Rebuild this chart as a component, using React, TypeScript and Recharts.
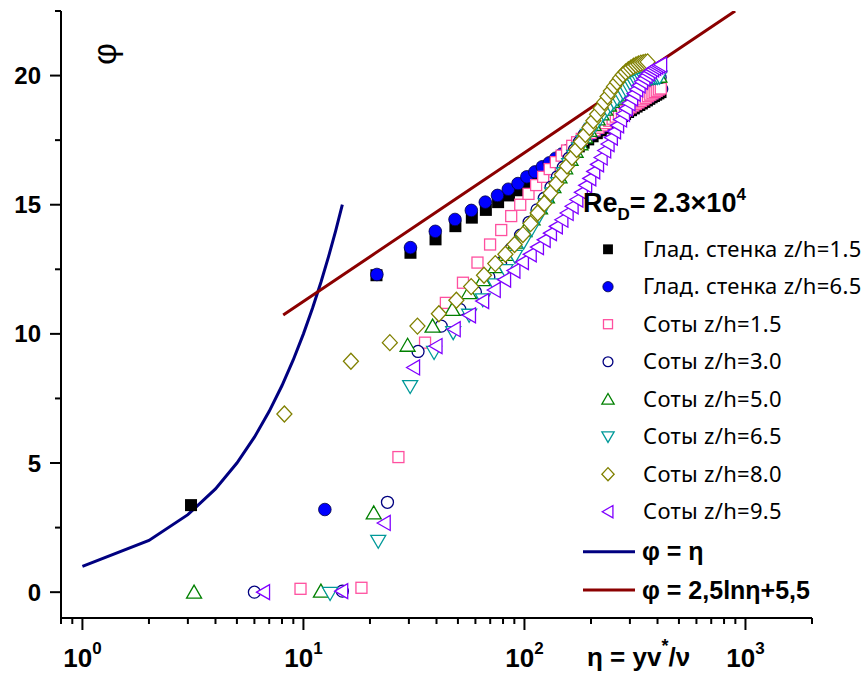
import { ComposedChart, XAxis, YAxis, Scatter, Line } from 'recharts';

const W = 867;
const H = 677;
const AX_LEFT = 61;
const AX_BOTTOM = 618;

// Глад. стенка z/h=1.5
const smooth15Eta = [3.1, 21.4, 30.5, 39.6, 48.7, 57.8, 66.9, 76.0, 85.1, 94.2, 103.3, 112.4, 121.5, 130.6, 139.7, 148.8, 157.9, 167.0, 176.1, 185.2, 194.3, 203.4, 212.5, 221.6, 230.7, 239.8, 248.9, 258.0, 267.1, 276.2, 285.3, 294.4, 303.5, 312.6, 321.7, 330.8, 339.9, 349.0, 358.1, 367.2, 376.3, 385.4, 394.5, 403.6, 412.7];
const smooth15Phi = [3.37, 12.27, 13.14, 13.66, 14.17, 14.5, 14.8, 15.1, 15.36, 15.56, 15.84, 16.06, 16.26, 16.45, 16.63, 16.8, 16.96, 17.11, 17.26, 17.4, 17.53, 17.65, 17.77, 17.88, 17.98, 18.08, 18.17, 18.26, 18.35, 18.43, 18.51, 18.59, 18.66, 18.73, 18.8, 18.86, 18.92, 18.98, 19.04, 19.1, 19.16, 19.21, 19.26, 19.31, 19.36];

// Глад. стенка z/h=6.5
const smooth65Eta = [12.5, 21.5, 30.5, 39.5, 48.5, 57.5, 66.5, 75.5, 84.5, 93.5, 102.5, 111.5, 120.5, 129.5, 138.5, 147.5, 156.5, 165.5, 174.5, 183.5, 192.5, 201.5, 210.5, 219.5, 228.5, 237.5, 246.5, 255.5, 264.5, 273.5, 282.5, 291.5, 300.5, 309.5, 318.5, 327.5, 336.5, 345.5, 354.5, 363.5, 372.5, 381.5, 390.5, 399.5, 408.5, 417.5];
const smooth65Phi = [3.2, 12.3, 13.34, 13.97, 14.43, 14.78, 15.1, 15.36, 15.6, 15.82, 16.08, 16.27, 16.47, 16.62, 16.8, 16.96, 17.1, 17.24, 17.38, 17.5, 17.62, 17.73, 17.84, 17.94, 18.04, 18.13, 18.22, 18.31, 18.4, 18.48, 18.56, 18.64, 18.71, 18.78, 18.85, 18.91, 18.97, 19.03, 19.09, 19.15, 19.2, 19.26, 19.31, 19.36, 19.42, 19.48];

// Соты z/h=1.5
const cell15Eta = [9.7, 18.3, 26.9, 35.5, 44.1, 52.7, 61.3, 69.9, 78.5, 87.1, 95.7, 104.3, 112.9, 121.5, 130.1, 138.7, 147.3, 155.9, 164.5, 173.1, 181.7, 190.3, 198.9, 207.5, 216.1, 224.7, 233.3, 241.9, 250.5, 259.1, 267.7, 276.3, 284.9, 293.5, 302.1, 310.7, 319.3, 327.9, 336.5, 345.1, 353.7, 362.3, 370.9, 379.5, 388.1, 396.7, 405.3, 413.9];
const cell15Phi = [0.13, 0.17, 5.23, 9.66, 11.2, 11.98, 12.76, 13.46, 14.02, 14.56, 15.0, 15.42, 15.76, 16.08, 16.38, 16.65, 16.9, 17.1, 17.28, 17.42, 17.55, 17.67, 17.78, 17.88, 17.98, 18.07, 18.16, 18.25, 18.33, 18.41, 18.49, 18.56, 18.63, 18.7, 18.77, 18.84, 18.9, 18.96, 19.02, 19.08, 19.14, 19.2, 19.26, 19.31, 19.36, 19.41, 19.46, 19.5];

// Соты z/h=3.0
const cell30Eta = [6, 15, 24, 33, 42, 51, 60, 69, 78, 87, 96, 105, 114, 123, 132, 141, 150, 159, 168, 177, 186, 195, 204, 213, 222, 231, 240, 249, 258, 267, 276, 285, 294, 303, 312, 321, 330, 339, 348, 357, 366, 375, 384, 393, 402, 411];
const cell30Phi = [0, 0.04, 3.48, 9.32, 10.3, 10.95, 11.62, 12.2, 12.75, 13.3, 13.82, 14.32, 14.8, 15.25, 15.68, 16.08, 16.45, 16.8, 17.12, 17.42, 17.7, 17.95, 18.18, 18.39, 18.58, 18.75, 18.9, 19.03, 19.15, 19.26, 19.36, 19.45, 19.53, 19.6, 19.66, 19.71, 19.75, 19.79, 19.82, 19.85, 19.87, 19.89, 19.9, 19.91, 19.92, 19.93];

// Соты z/h=5.0
const cell50Eta = [3.2, 12.0, 20.8, 29.6, 38.4, 47.2, 56.0, 64.8, 73.6, 82.4, 91.2, 100.0, 108.8, 117.6, 126.4, 135.2, 144.0, 152.8, 161.6, 170.4, 179.2, 188.0, 196.8, 205.6, 214.4, 223.2, 232.0, 240.8, 249.6, 258.4, 267.2, 276.0, 284.8, 293.6, 302.4, 311.2, 320.0, 328.8, 337.6, 346.4, 355.2, 364.0, 372.8, 381.6, 390.4, 399.2, 408.0];
const cell50Phi = [0, 0.04, 3.07, 9.56, 10.3, 10.95, 11.6, 12.1, 12.6, 13.08, 13.55, 14.0, 14.45, 14.88, 15.3, 15.7, 16.08, 16.43, 16.76, 17.07, 17.36, 17.63, 17.88, 18.11, 18.32, 18.52, 18.7, 18.86, 19.0, 19.13, 19.25, 19.36, 19.46, 19.55, 19.62, 19.69, 19.75, 19.8, 19.84, 19.87, 19.9, 19.92, 19.94, 19.95, 19.96, 19.97, 19.98];

// Соты z/h=6.5
const cell65Eta = [13.2, 21.8, 30.4, 39.0, 47.6, 56.2, 64.8, 73.4, 82.0, 90.6, 99.2, 107.8, 116.4, 125.0, 133.6, 142.2, 150.8, 159.4, 168.0, 176.6, 185.2, 193.8, 202.4, 211.0, 219.6, 228.2, 236.8, 245.4, 254.0, 262.6, 271.2, 279.8, 288.4, 297.0, 305.6, 314.2, 322.8, 331.4, 340.0, 348.6, 357.2, 365.8, 374.4, 383.0, 391.6, 400.2, 408.8];
const cell65Phi = [-0.05, 1.97, 7.96, 9.28, 10.05, 10.72, 11.32, 11.9, 12.45, 13.0, 13.55, 14.05, 14.55, 15.0, 15.42, 15.82, 16.2, 16.55, 16.87, 17.16, 17.43, 17.68, 17.92, 18.13, 18.33, 18.52, 18.68, 18.83, 18.97, 19.1, 19.22, 19.33, 19.43, 19.52, 19.6, 19.67, 19.73, 19.78, 19.82, 19.85, 19.88, 19.9, 19.91, 19.92, 19.93, 19.93, 19.94];

// Соты z/h=8.0
const cell80Eta = [8.2, 16.4, 24.6, 32.8, 41.0, 49.2, 57.4, 65.6, 73.8, 82.0, 90.2, 98.4, 106.6, 114.8, 123.0, 131.2, 139.4, 147.6, 155.8, 164.0, 172.2, 180.4, 188.6, 196.8, 205.0, 213.2, 221.4, 229.6, 237.8, 246.0, 254.2, 262.4, 270.6, 278.8, 287.0, 295.2, 303.4, 311.6, 319.8, 328.0, 336.2, 344.4, 352.6, 360.8];
const cell80Phi = [6.9, 8.94, 9.66, 10.3, 10.78, 11.3, 11.83, 12.27, 12.72, 13.08, 13.46, 13.85, 14.27, 14.68, 15.05, 15.45, 15.82, 16.17, 16.5, 16.83, 17.14, 17.44, 17.72, 17.99, 18.25, 18.5, 18.74, 18.97, 19.19, 19.4, 19.58, 19.74, 19.9, 20.03, 20.14, 20.23, 20.3, 20.36, 20.41, 20.45, 20.48, 20.5, 20.52, 20.53];

// Соты z/h=9.5
const cell95Eta = [6.6, 14.9, 23.2, 31.5, 39.8, 48.1, 56.4, 64.7, 73.0, 81.3, 89.6, 97.9, 106.2, 114.5, 122.8, 131.1, 139.4, 147.7, 156.0, 164.3, 172.6, 180.9, 189.2, 197.5, 205.8, 214.1, 222.4, 230.7, 239.0, 247.3, 255.6, 263.9, 272.2, 280.5, 288.8, 297.1, 305.4, 313.7, 322.0, 330.3, 338.6, 346.9, 355.2, 363.5, 371.8, 380.1, 388.4, 396.7, 405.0, 413.3];
const cell95Phi = [0, 0.04, 2.68, 8.7, 9.53, 10.18, 10.72, 11.27, 11.7, 12.1, 12.45, 12.78, 13.08, 13.36, 13.64, 13.9, 14.16, 14.42, 14.68, 14.94, 15.2, 15.48, 15.75, 16.02, 16.29, 16.56, 16.83, 17.1, 17.35, 17.6, 17.84, 18.07, 18.3, 18.52, 18.73, 18.93, 19.12, 19.3, 19.47, 19.62, 19.76, 19.88, 19.99, 20.09, 20.17, 20.24, 20.3, 20.35, 20.39, 20.42];

// φ = η
const linearEta = [1, 2, 3, 4, 5, 6, 7, 8, 9, 10, 11, 12, 13, 14, 15];
const linearPhi = [1, 2, 3, 4, 5, 6, 7, 8, 9, 10, 11, 12, 13, 14, 15];

// φ = 2,5lnη+5,5
const logLawEta = [8.1, 20, 50, 100, 200, 500, 898];
const logLawPhi = [10.73, 12.99, 15.28, 17.01, 18.75, 21.04, 22.5];

const xMajorTicks = [1, 10, 100, 1000];
const xTicks = [0.8, 0.9, 1, 2, 3, 4, 5, 6, 7, 8, 9, 10, 20, 30, 40, 50, 60, 70, 80, 90, 100, 200, 300, 400, 500, 600, 700, 800, 900, 1000, 2000];
const yMajorTicks = [0, 5, 10, 15, 20];
const yTicks = [0, 2.5, 5, 7.5, 10, 12.5, 15, 17.5, 20, 22.5];

const zip = (xs: number[], ys: number[]) =>
  xs.slice(0, Math.min(xs.length, ys.length)).map((x, i) => ({ x, y: ys[i] }));

type Kind = 'sqFill' | 'cirFill' | 'sq' | 'cir' | 'up' | 'down' | 'diamond' | 'left';

function Marker({ kind, cx, cy, color, s = 1 }: { kind: Kind; cx: number; cy: number; color: string; s?: number }) {
  const sw = 1.3;
  switch (kind) {
    case 'sqFill':
      return <rect x={cx - 6 * s} y={cy - 6 * s} width={12 * s} height={12 * s} fill={color} />;
    case 'cirFill':
      return <circle cx={cx} cy={cy} r={6.3 * s} fill={color} stroke="#000040" strokeWidth={0.8} />;
    case 'sq':
      return <rect x={cx - 5.5 * s} y={cy - 5.5 * s} width={11 * s} height={11 * s} fill="#fff" stroke={color} strokeWidth={sw} />;
    case 'cir':
      return <circle cx={cx} cy={cy} r={6 * s} fill="#fff" stroke={color} strokeWidth={sw} />;
    case 'up':
      return <polygon points={`${cx},${cy - 7 * s} ${cx + 7.5 * s},${cy + 6 * s} ${cx - 7.5 * s},${cy + 6 * s}`} fill="#fff" stroke={color} strokeWidth={sw} />;
    case 'down':
      return <polygon points={`${cx - 7.5 * s},${cy - 6 * s} ${cx + 7.5 * s},${cy - 6 * s} ${cx},${cy + 7 * s}`} fill="#fff" stroke={color} strokeWidth={sw} />;
    case 'diamond':
      return <polygon points={`${cx},${cy - 8 * s} ${cx + 7.5 * s},${cy} ${cx},${cy + 8 * s} ${cx - 7.5 * s},${cy}`} fill="#fff" stroke={color} strokeWidth={sw} />;
    case 'left':
      return <polygon points={`${cx - 7 * s},${cy} ${cx + 6 * s},${cy - 7.5 * s} ${cx + 6 * s},${cy + 7.5 * s}`} fill="#fff" stroke={color} strokeWidth={sw} />;
  }
  return null;
}

const series: { name: string; kind: Kind; color: string; eta: number[]; phi: number[] }[] = [
  { name: 'Глад. стенка z/h=1.5', kind: 'sqFill', color: '#000000', eta: smooth15Eta, phi: smooth15Phi },
  { name: 'Глад. стенка z/h=6.5', kind: 'cirFill', color: '#0000ff', eta: smooth65Eta, phi: smooth65Phi },
  { name: 'Соты z/h=1.5', kind: 'sq', color: '#ff4f9f', eta: cell15Eta, phi: cell15Phi },
  { name: 'Соты z/h=3.0', kind: 'cir', color: '#000080', eta: cell30Eta, phi: cell30Phi },
  { name: 'Соты z/h=5.0', kind: 'up', color: '#008000', eta: cell50Eta, phi: cell50Phi },
  { name: 'Соты z/h=6.5', kind: 'down', color: '#009999', eta: cell65Eta, phi: cell65Phi },
  { name: 'Соты z/h=8.0', kind: 'diamond', color: '#808000', eta: cell80Eta, phi: cell80Phi },
  { name: 'Соты z/h=9.5', kind: 'left', color: '#8000ff', eta: cell95Eta, phi: cell95Phi },
];

const bold = { fontFamily: '"Liberation Sans", Arial, sans-serif', fontWeight: 700 };

function XTick(props: any) {
  const { x, payload } = props;
  const v = payload.value;
  const major = xMajorTicks.includes(v);
  const exp = Math.round(Math.log10(v));
  return (
    <g>
      <line x1={x} x2={x} y1={AX_BOTTOM} y2={AX_BOTTOM + (major ? 12 : 6)} stroke="#000" strokeWidth={2} />
      {major && (
        <text x={x} y={667} textAnchor="middle" fontSize={26} fill="#000" {...bold}>
          <tspan>10</tspan>
          <tspan dy={-13} fontSize={17}>{exp}</tspan>
        </text>
      )}
    </g>
  );
}

function YTick(props: any) {
  const { y, payload } = props;
  const v = payload.value;
  const major = yMajorTicks.includes(v);
  return (
    <g>
      <line x1={AX_LEFT} x2={AX_LEFT - (major ? 11 : 6)} y1={y} y2={y} stroke="#000" strokeWidth={2} />
      {major && (
        <text x={41} y={y + 8.5} textAnchor="end" fontSize={24} fill="#000" {...bold}>
          {v}
        </text>
      )}
    </g>
  );
}

const legendRows = [249.3, 286.7, 324.2, 361.7, 399.2, 436.7, 474.2, 511.7];

export default function App() {
  return (
    <div style={{ position: 'absolute', left: 0, top: 0, width: W, height: H, background: '#fff' }}>
      <ComposedChart width={W} height={H} margin={{ top: 11, right: W - 812, bottom: 0, left: 0 }}>
        <XAxis
          type="number"
          dataKey="x"
          scale="log"
          domain={[0.8, 2000]}
          allowDataOverflow
          ticks={xTicks}
          interval={0}
          tick={<XTick />}
          tickLine={false}
          tickSize={0}
          height={H - AX_BOTTOM}
          axisLine={{ stroke: '#000', strokeWidth: 2 }}
        />
        <YAxis
          type="number"
          dataKey="y"
          domain={[-1, 22.5]}
          allowDataOverflow
          ticks={yTicks}
          interval={0}
          tick={<YTick />}
          tickLine={false}
          tickSize={0}
          width={AX_LEFT}
          axisLine={{ stroke: '#000', strokeWidth: 2 }}
        />
        {series.map((s) => (
          <Scatter
            key={s.name}
            name={s.name}
            data={zip(s.eta, s.phi)}
            isAnimationActive={false}
            shape={(p: any) => <Marker kind={s.kind} cx={p.cx} cy={p.cy} color={s.color} />}
          />
        ))}
        <Line
          data={zip(linearEta, linearPhi)}
          dataKey="y"
          type="linear"
          stroke="#000080"
          strokeWidth={3}
          dot={false}
          activeDot={false}
          isAnimationActive={false}
        />
        <Line
          data={zip(logLawEta, logLawPhi)}
          dataKey="y"
          type="linear"
          stroke="#8b0000"
          strokeWidth={3}
          dot={false}
          activeDot={false}
          isAnimationActive={false}
        />
      </ComposedChart>

      <svg width={W} height={H} style={{ position: 'absolute', left: 0, top: 0, pointerEvents: 'none' }}>
        {/* axis titles */}
        <text transform="translate(104,54) rotate(-90)" textAnchor="middle" dominantBaseline="central" fontSize={34} fontFamily='"Liberation Sans", Arial, sans-serif' fill="#000">
          φ
        </text>
        <text x={587} y={666} fontSize={26} fill="#000" {...bold}>
          <tspan>η = yv</tspan>
          <tspan dy={-14} fontSize={18}>*</tspan>
          <tspan dy={14}>/ν</tspan>
        </text>

        {/* Re label */}
        <text x={583} y={212} fontSize={27} fill="#000" {...bold}>
          <tspan>Re</tspan>
          <tspan dy={8} fontSize={17}>D</tspan>
          <tspan dy={-8}>= 2.3×10</tspan>
          <tspan dy={-12} fontSize={17}>4</tspan>
        </text>

        {/* legend */}
        {series.map((s, i) => (
          <g key={s.name}>
            <Marker kind={s.kind} cx={608} cy={legendRows[i]} color={s.color} s={0.82} />
            <text x={643} y={legendRows[i] + 7.5} fontSize={22} letterSpacing={0.3} fontFamily='"Noto Sans", sans-serif' fill="#000">
              {s.name}
            </text>
          </g>
        ))}
        <line x1={583} x2={635} y1={551.7} y2={551.7} stroke="#000080" strokeWidth={3} />
        <text x={642} y={560} fontSize={25} fill="#000" {...bold}>φ = η</text>
        <line x1={583} x2={635} y1={590} y2={590} stroke="#8b0000" strokeWidth={3} />
        <text x={642} y={598.5} fontSize={25} fill="#000" {...bold}>φ = 2,5lnη+5,5</text>
      </svg>
    </div>
  );
}
